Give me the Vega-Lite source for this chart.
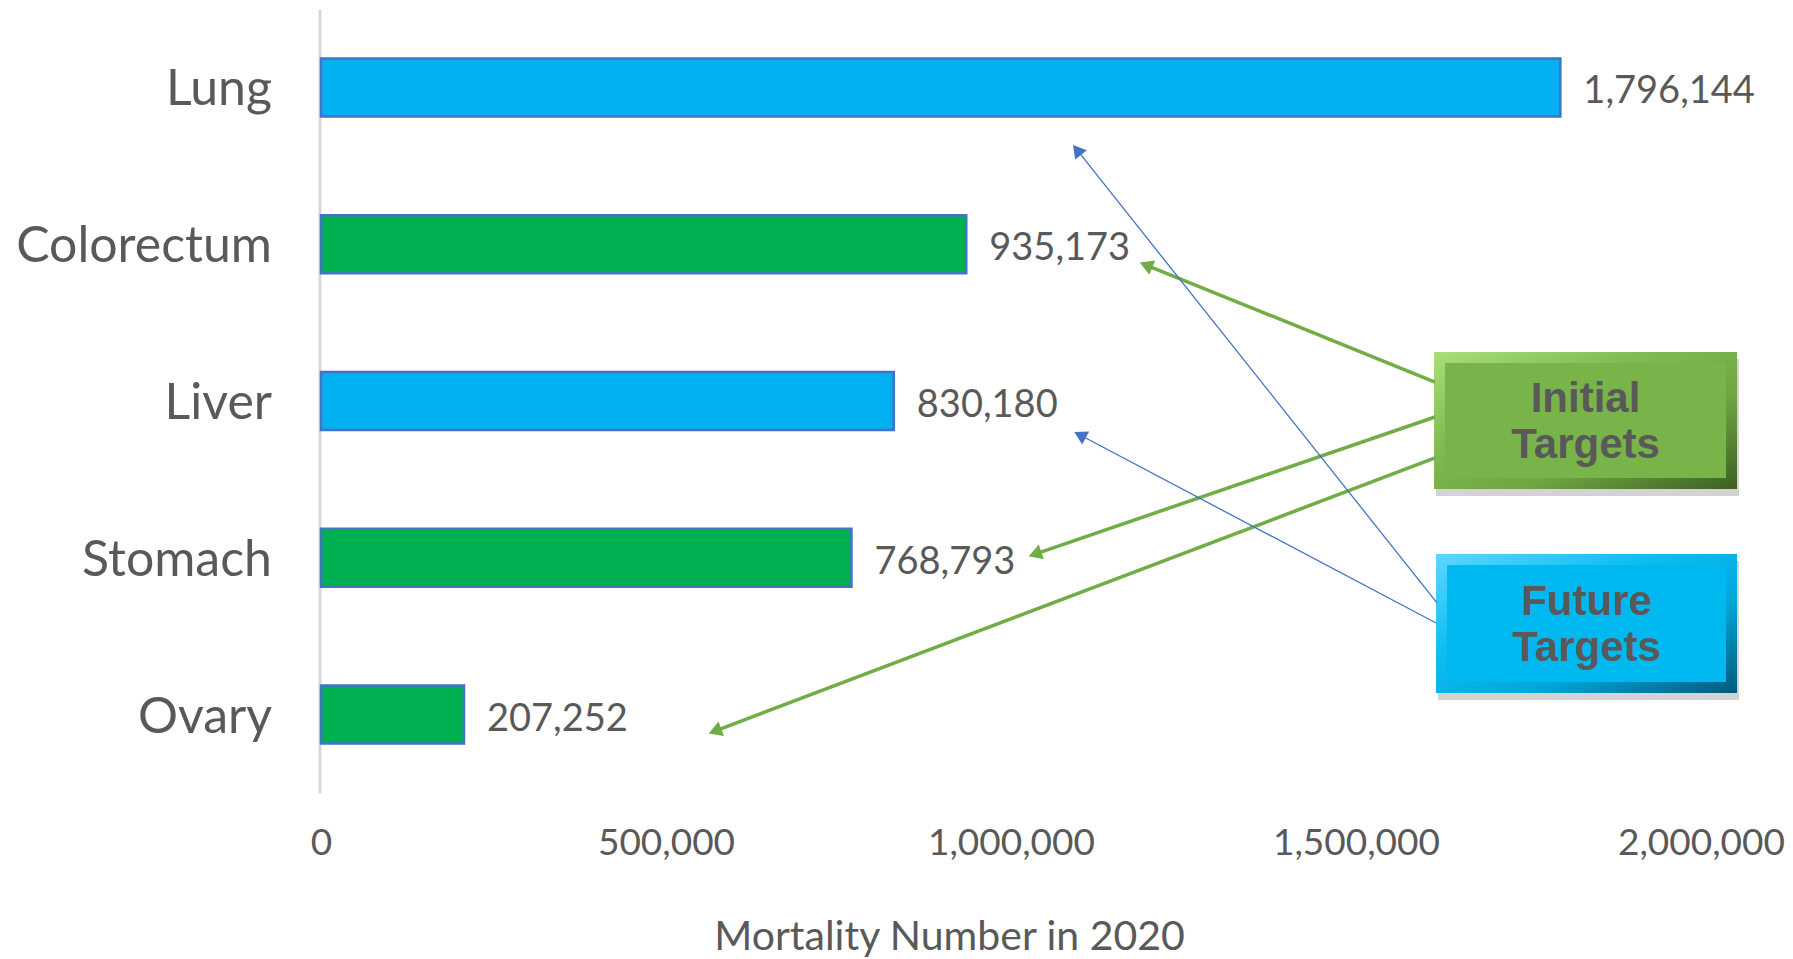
{
  "$schema": "https://vega.github.io/schema/vega-lite/v6.json",
  "width": 1380,
  "height": 784,
  "autosize": {"type": "none"},
  "padding": {"left": 321, "top": 9, "right": 92, "bottom": 166},
  "background": "white",
  "config": {
    "view": {"stroke": null},
    "axisX": {
      "domain": false, "ticks": false, "grid": false, "format": ",.0f",
      "labelFont": "Lato", "labelFontSize": 37, "labelColor": "#595959",
      "labelBaseline": "middle", "labelPadding": 50, "labelFlush": false,
      "titleFont": "Lato", "titleFontSize": 41, "titleFontWeight": "normal", "titleColor": "#595959",
      "titleX": 628, "titleY": 144, "titleAlign": "center", "titleBaseline": "middle"
    }
  },
  "datasets": {
    "mortality": [
      {"cancer": "Lung", "deaths": 1796144, "target": "future"},
      {"cancer": "Colorectum", "deaths": 935173, "target": "initial"},
      {"cancer": "Liver", "deaths": 830180, "target": "future"},
      {"cancer": "Stomach", "deaths": 768793, "target": "initial"},
      {"cancer": "Ovary", "deaths": 207252, "target": "initial"}
    ],
    "callouts": [
      {"group": "initial", "label": "Initial Targets", "x1": 1613100, "x2": 2052200, "y1": 1.6875, "y2": 2.561, "cx": 1832650, "cy": 1.99},
      {"group": "future", "label": "Future Targets", "x1": 1616000, "x2": 2052200, "y1": 2.976, "y2": 3.862, "cx": 1834100, "cy": 3.284}
    ],
    "pointers": [
      {"arrow": "g1", "group": "initial", "end": "tail", "x": 1614500, "row": 1.879},
      {"arrow": "g1", "group": "initial", "end": "head", "x": 1195700, "row": 1.133},
      {"arrow": "g2", "group": "initial", "end": "tail", "x": 1614500, "row": 2.102},
      {"arrow": "g2", "group": "initial", "end": "head", "x": 1034800, "row": 2.976},
      {"arrow": "g3", "group": "initial", "end": "tail", "x": 1614500, "row": 2.363},
      {"arrow": "g3", "group": "initial", "end": "head", "x": 571000, "row": 4.105},
      {"arrow": "b1", "group": "future", "end": "tail", "x": 1617400, "row": 3.288},
      {"arrow": "b1", "group": "future", "end": "head", "x": 1095700, "row": 0.399},
      {"arrow": "b2", "group": "future", "end": "tail", "x": 1616000, "row": 3.416},
      {"arrow": "b2", "group": "future", "end": "head", "x": 1100000, "row": 2.217}
    ]
  },
  "resolve": {"scale": {"y": "independent", "color": "independent", "fill": "independent", "strokeWidth": "independent"}},
  "layer": [
    {
      "data": {"name": "mortality"},
      "encoding": {
        "y": {
          "field": "cancer", "type": "nominal", "sort": null,
          "scale": {"paddingInner": 0.63, "paddingOuter": 0.315},
          "axis": {
            "title": null, "ticks": false, "grid": false,
            "domain": true, "domainColor": "#d9d9d9", "domainWidth": 3, "offset": 1.5,
            "labelFont": "Lato", "labelFontSize": 50, "labelColor": "#595959", "labelPadding": 48,
            "labelLimit": 0, "labelOffset": 3
          }
        },
        "x": {
          "field": "deaths", "type": "quantitative",
          "scale": {"domain": [0, 2000000], "nice": false},
          "title": "Mortality Number in 2020",
          "axis": {"values": [0, 500000, 1000000, 1500000, 2000000], "format": ",.0f"}
        }
      },
      "layer": [
        {
          "mark": {"type": "bar", "stroke": "#4472C4", "strokeWidth": 2.5},
          "encoding": {
            "color": {
              "field": "target", "type": "nominal",
              "scale": {"domain": ["future", "initial"], "range": ["#00B0F0", "#00B050"]},
              "legend": null
            }
          }
        },
        {
          "mark": {"type": "text", "align": "left", "baseline": "middle", "dx": 23, "dy": 5, "font": "Lato", "fontSize": 38, "color": "#595959"},
          "encoding": {"text": {"field": "deaths", "type": "quantitative", "format": ",.0f"}}
        }
      ]
    },
    {
      "data": {"name": "callouts"},
      "layer": [
        {
          "mark": {"type": "rect", "fill": "#808080", "opacity": 0.35, "xOffset": 2, "yOffset": 7, "x2Offset": 2, "y2Offset": 7},
          "encoding": {
            "x": {"field": "x1", "type": "quantitative", "scale": {"domain": [0, 2000000], "nice": false}, "title": "Mortality Number in 2020", "axis": {"values": [0, 500000, 1000000, 1500000, 2000000], "format": ",.0f"}},
            "x2": {"field": "x2"},
            "y": {"field": "y1", "type": "quantitative", "scale": {"domain": [-0.5, 4.5], "reverse": true, "nice": false, "zero": false}, "axis": null},
            "y2": {"field": "y2"}
          }
        },
        {
          "transform": [{"filter": "datum.group === 'initial'"}],
          "mark": {
            "type": "rect",
            "fill": {"gradient": "linear", "x1": 0, "y1": 0, "x2": 1, "y2": 1,
              "stops": [{"offset": 0, "color": "#A8DE78"}, {"offset": 0.35, "color": "#80BC52"}, {"offset": 0.65, "color": "#6FA542"}, {"offset": 1, "color": "#3E5F24"}]}
          },
          "encoding": {
            "x": {"field": "x1", "type": "quantitative", "scale": {"domain": [0, 2000000], "nice": false}, "title": "Mortality Number in 2020", "axis": {"values": [0, 500000, 1000000, 1500000, 2000000], "format": ",.0f"}},
            "x2": {"field": "x2"},
            "y": {"field": "y1", "type": "quantitative", "scale": {"domain": [-0.5, 4.5], "reverse": true, "nice": false, "zero": false}, "axis": null},
            "y2": {"field": "y2"}
          }
        },
        {
          "transform": [{"filter": "datum.group === 'future'"}],
          "mark": {
            "type": "rect",
            "fill": {"gradient": "linear", "x1": 0, "y1": 0, "x2": 1, "y2": 1,
              "stops": [{"offset": 0, "color": "#5CD8FF"}, {"offset": 0.35, "color": "#10BEF2"}, {"offset": 0.65, "color": "#00A8DC"}, {"offset": 1, "color": "#005A7A"}]}
          },
          "encoding": {
            "x": {"field": "x1", "type": "quantitative", "scale": {"domain": [0, 2000000], "nice": false}, "title": "Mortality Number in 2020", "axis": {"values": [0, 500000, 1000000, 1500000, 2000000], "format": ",.0f"}},
            "x2": {"field": "x2"},
            "y": {"field": "y1", "type": "quantitative", "scale": {"domain": [-0.5, 4.5], "reverse": true, "nice": false, "zero": false}, "axis": null},
            "y2": {"field": "y2"}
          }
        },
        {
          "mark": {"type": "rect", "xOffset": 11, "x2Offset": -11, "yOffset": 11, "y2Offset": -11},
          "encoding": {
            "x": {"field": "x1", "type": "quantitative", "scale": {"domain": [0, 2000000], "nice": false}, "title": "Mortality Number in 2020", "axis": {"values": [0, 500000, 1000000, 1500000, 2000000], "format": ",.0f"}},
            "x2": {"field": "x2"},
            "y": {"field": "y1", "type": "quantitative", "scale": {"domain": [-0.5, 4.5], "reverse": true, "nice": false, "zero": false}, "axis": null},
            "y2": {"field": "y2"},
            "fill": {
              "field": "group", "type": "nominal",
              "scale": {"domain": ["initial", "future"], "range": ["#78B44A", "#00B8F0"]},
              "legend": null
            }
          }
        },
        {
          "mark": {"type": "text", "align": "center", "baseline": "middle", "lineBreak": " ", "lineHeight": 46,
            "font": "Liberation Sans", "fontWeight": "bold", "fontSize": 42, "color": "#595959"},
          "encoding": {
            "x": {"field": "cx", "type": "quantitative", "scale": {"domain": [0, 2000000], "nice": false}, "title": "Mortality Number in 2020", "axis": {"values": [0, 500000, 1000000, 1500000, 2000000], "format": ",.0f"}},
            "y": {"field": "cy", "type": "quantitative", "scale": {"domain": [-0.5, 4.5], "reverse": true, "nice": false, "zero": false}, "axis": null},
            "text": {"field": "label", "type": "nominal"}
          }
        }
      ]
    },
    {
      "data": {"name": "pointers"},
      "encoding": {
        "x": {"field": "x", "type": "quantitative", "scale": {"domain": [0, 2000000], "nice": false}, "title": "Mortality Number in 2020", "axis": {"values": [0, 500000, 1000000, 1500000, 2000000], "format": ",.0f"}},
        "y": {"field": "row", "type": "quantitative", "scale": {"domain": [-0.5, 4.5], "reverse": true, "nice": false, "zero": false}, "axis": null}
      },
      "layer": [
        {
          "mark": {"type": "line"},
          "encoding": {
            "detail": {"field": "arrow", "type": "nominal"},
            "color": {"field": "group", "type": "nominal", "scale": {"domain": ["initial", "future"], "range": ["#70AD47", "#4472C4"]}, "legend": null},
            "strokeWidth": {"field": "group", "type": "nominal", "scale": {"domain": ["initial", "future"], "range": [3.5, 1.3]}, "legend": null}
          }
        },
        {
          "transform": [{"filter": "datum.arrow === 'g1' && datum.end === 'head'"}],
          "mark": {"type": "point", "shape": "triangle-up", "filled": true, "opacity": 1, "size": 240, "color": "#70AD47", "angle": 292}
        },
        {
          "transform": [{"filter": "datum.arrow === 'g2' && datum.end === 'head'"}],
          "mark": {"type": "point", "shape": "triangle-up", "filled": true, "opacity": 1, "size": 240, "color": "#70AD47", "angle": 251}
        },
        {
          "transform": [{"filter": "datum.arrow === 'g3' && datum.end === 'head'"}],
          "mark": {"type": "point", "shape": "triangle-up", "filled": true, "opacity": 1, "size": 240, "color": "#70AD47", "angle": 249}
        },
        {
          "transform": [{"filter": "datum.arrow === 'b1' && datum.end === 'head'"}],
          "mark": {"type": "point", "shape": "triangle-up", "filled": true, "opacity": 1, "size": 220, "color": "#4472C4", "angle": 321.5}
        },
        {
          "transform": [{"filter": "datum.arrow === 'b2' && datum.end === 'head'"}],
          "mark": {"type": "point", "shape": "triangle-up", "filled": true, "opacity": 1, "size": 220, "color": "#4472C4", "angle": 298}
        }
      ]
    }
  ]
}
